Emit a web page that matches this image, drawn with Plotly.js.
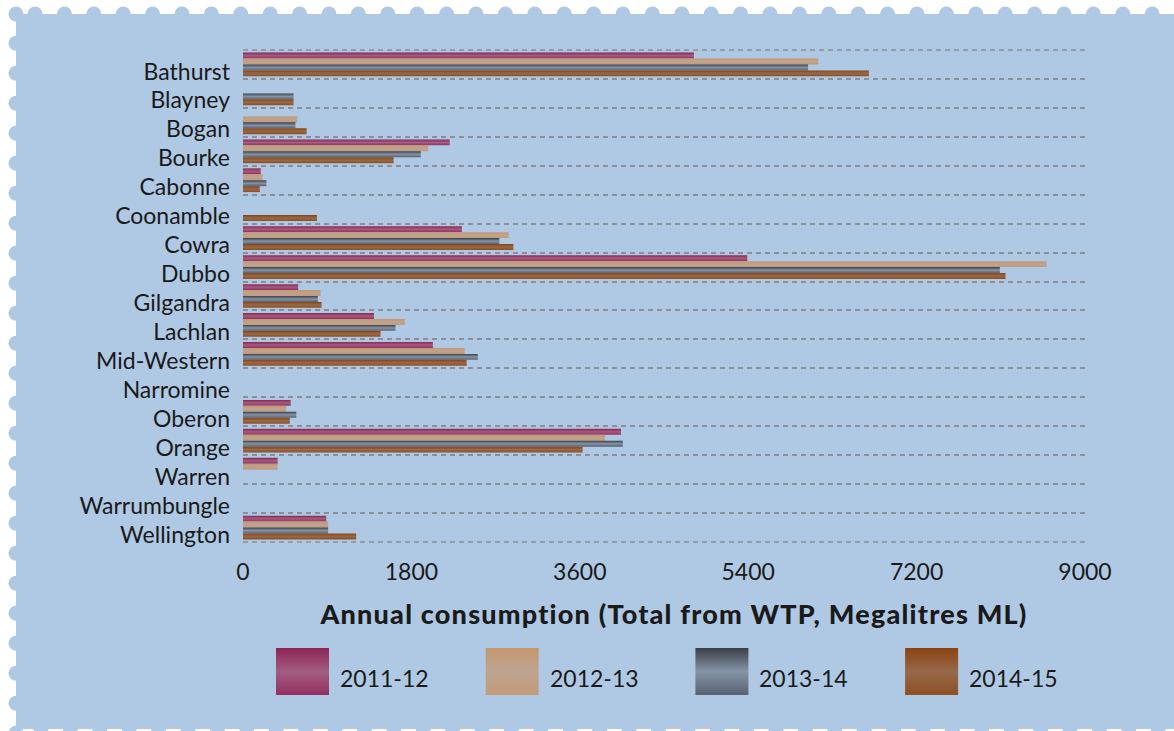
<!DOCTYPE html>
<html>
<head>
<meta charset="utf-8">
<script src="https://cdn.plot.ly/plotly-3.0.1.min.js"></script>
<style>
  html, body { margin: 0; padding: 0; background: #ffffff; }
  #wrap { position: relative; width: 1174px; height: 731px; overflow: hidden; }
  #bg { position: absolute; left: 0; top: 0; }
  #chart { position: absolute; left: 0; top: 0; width: 1174px; height: 731px; }
  #chart svg text { font-variant-ligatures: none; font-feature-settings: "liga" 0, "clig" 0; }
  #chart g.g-xtitle text { letter-spacing: 1.2px; }
  #chart g.g-xtitle { transform: translateX(10px); }
</style>
</head>
<body>
<div id="wrap">
  <svg id="bg" width="1174" height="731"></svg>
  <div id="chart"></div>
</div>
<script>
// ---------------- data ----------------
const councils = ['Bathurst','Blayney','Bogan','Bourke','Cabonne','Coonamble','Cowra','Dubbo','Gilgandra','Lachlan','Mid-Western','Narromine','Oberon','Orange','Warren','Warrumbungle','Wellington'];
const seriesNames = ['2011-12','2012-13','2013-14','2014-15'];
const v2011_12 = [4820, null, null, 2210, 190, null, 2340, 5390, 590, 1400, 2030, null, 510, 4040, 370, null, 890];
const v2012_13 = [6150, null, 580, 1980, 210, null, 2840, 8590, 830, 1730, 2370, null, 460, 3870, 370, null, 910];
const v2013_14 = [6040, 540, 560, 1900, 250, null, 2740, 8090, 800, 1630, 2510, null, 570, 4060, null, null, 910];
const v2014_15 = [6690, 540, 680, 1610, 180, 790, 2890, 8150, 840, 1470, 2390, null, 500, 3630, null, null, 1210];
const xTicks = [0, 1800, 3600, 5400, 7200, 9000];
const xTitle = 'Annual consumption (Total from WTP, Megalitres ML)';

// ---------------- styles ----------------
const seriesValues = [v2011_12, v2012_13, v2013_14, v2014_15];
const solid = ['#9a4773', '#c0a08a', '#6e7888', '#8f5a36'];
const grads = [
  ['#8c2455', '#a35d81', '#93305f'],
  ['#c4966f', '#bea491', '#c39a78'],
  ['#3b3e46', '#8494a6', '#596272'],
  ['#8a4312', '#96694b', '#8e4f22']
];
const FONT = 'Lato, "Open Sans", sans-serif';
const TXT = '#1a1a1a';
const GRID = '#8b8f96';

// ---------------- background (stamp) ----------------
(function drawBg(){
  const ns = 'http://www.w3.org/2000/svg';
  const svg = document.getElementById('bg');
  const blue = '#afc9e4';
  const add = (tag, attrs) => { const e = document.createElementNS(ns, tag); for (const k in attrs) e.setAttribute(k, attrs[k]); svg.appendChild(e); };
  add('rect', {x:16, y:14, width:1200, height:715, fill:blue});
  const r = 7.5;
  add('circle', {cx:16, cy:14, r:r, fill:blue});
  for (let x = 35; x < 1190; x += 29.4) add('circle', {cx:x, cy:14, r:r, fill:blue});
  for (let y = 43.3; y < 740; y += 30) add('circle', {cx:16, cy:y, r:r, fill:blue});
  for (let x = 41; x < 1190; x += 29.4) add('circle', {cx:x, cy:729, r:r, fill:blue});
})();

// ---------------- chart ----------------
const PL = 243, PR = 1085, PT = 50, PB = 542;
const px = x => (x - PL) / (PR - PL);
const py = y => (PB - y) / (PB - PT);

const traces = seriesNames.map((name, i) => ({
  type: 'bar', orientation: 'h', name: name,
  y: councils, x: seriesValues[i],
  marker: { color: solid[i], line: { width: 0 } },
  hoverinfo: 'x+y+name', showlegend: false
}));

const shapes = [], annotations = [];
seriesNames.forEach((name, i) => {
  const sx = 276 + 209.7 * i;
  shapes.push({ type: 'rect', xref: 'paper', yref: 'paper', layer: 'above',
    x0: px(sx), x1: px(sx + 53), y0: py(695), y1: py(648),
    fillcolor: solid[i], line: { width: 0 } });
  annotations.push({ xref: 'paper', yref: 'paper', x: px(sx + 62), y: py(678),
    xanchor: 'left', yanchor: 'middle', text: name, showarrow: false,
    font: { family: FONT, size: 23, color: TXT } });
});
// outer boundary grid lines (top and bottom of category band)
[0, 1].forEach(yv => shapes.push({ type: 'line', xref: 'paper', yref: 'paper', layer: 'below',
  x0: 0, x1: 1, y0: yv, y1: yv, line: { color: GRID, width: 1.5, dash: '5px,4px' } }));

const layout = {
  width: 1174, height: 731,
  margin: { l: PL, r: 1174 - PR, t: PT, b: 731 - PB, pad: 0 },
  paper_bgcolor: 'rgba(0,0,0,0)', plot_bgcolor: 'rgba(0,0,0,0)',
  barmode: 'group', bargap: 0.18, bargroupgap: 0,
  font: { family: FONT, color: TXT },
  xaxis: {
    range: [0, 9000], tickmode: 'array', tickvals: xTicks, ticktext: xTicks.map(String),
    showgrid: false, zeroline: false, showline: false, ticks: '',
    tickfont: { family: FONT, size: 23, color: TXT }, ticklabelstandoff: 14,
    title: { text: xTitle, standoff: 21, font: { family: FONT, size: 27, color: TXT, weight: 900 } },
    automargin: false, fixedrange: true
  },
  yaxis: {
    type: 'category', categoryorder: 'array', categoryarray: councils,
    autorange: 'reversed', tickson: 'boundaries', ticks: '',
    showgrid: true, gridcolor: GRID, gridwidth: 1.5, griddash: '5px,4px',
    zeroline: false, showline: false,
    tickfont: { family: FONT, size: 23, color: TXT },
    ticklabelstandoff: 12, ticklabelshift: -7,
    automargin: false, fixedrange: true
  },
  shapes: shapes, annotations: annotations,
  showlegend: false
};

Plotly.newPlot('chart', traces, layout, { displayModeBar: false }).then(gd => {
  const ns = 'http://www.w3.org/2000/svg';
  const svg = gd.querySelector('svg.main-svg');
  let defs = svg.querySelector('defs');
  if (!defs) { defs = document.createElementNS(ns, 'defs'); svg.insertBefore(defs, svg.firstChild); }
  grads.forEach((g, i) => {
    const lg = document.createElementNS(ns, 'linearGradient');
    lg.setAttribute('id', 'bargrad' + i);
    lg.setAttribute('x1', '0'); lg.setAttribute('y1', '0'); lg.setAttribute('x2', '0'); lg.setAttribute('y2', '1');
    [[0, g[0]], [0.5, g[1]], [1, g[2]]].forEach(([o, c]) => {
      const s = document.createElementNS(ns, 'stop');
      s.setAttribute('offset', o); s.setAttribute('stop-color', c);
      lg.appendChild(s);
    });
    defs.appendChild(lg);
  });
  gd.querySelectorAll('g.barlayer g.trace.bars').forEach((t, i) => {
    t.querySelectorAll('path').forEach(p => { p.style.fill = 'url(#bargrad' + i + ')'; });
  });
  gd.querySelectorAll('g.shapelayer path[data-index]').forEach(p => {
    const i = +p.getAttribute('data-index');
    if (i < grads.length) p.style.fill = 'url(#bargrad' + i + ')';
  });
});
</script>
</body>
</html>
